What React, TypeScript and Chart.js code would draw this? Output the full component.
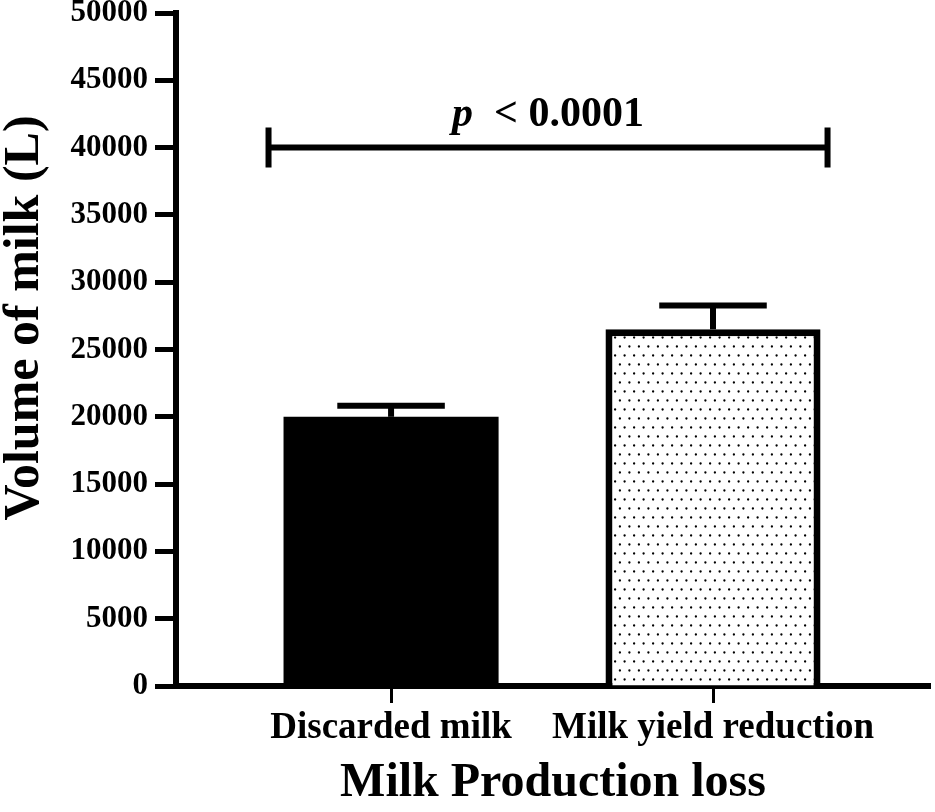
import React, { useEffect, useRef } from "react";
import { Chart, registerables } from "chart.js";

Chart.register(...registerables);

// data
const categories = ["Discarded milk", "Milk yield reduction"];
const meanVolume = [20000, 26500];
const sdVolume = [830, 1760];
const yMax = 50000;
const yStep = 5000;
const pValueLabel = "p < 0.0001";
const bracketValue = 40000;

const FONT = "'Liberation Serif', 'Times New Roman', serif";

function makeDotPattern(ctx: CanvasRenderingContext2D) {
	const tile = document.createElement("canvas");
	tile.width = 19;
	tile.height = 18;
	const t = tile.getContext("2d")!;
	t.fillStyle = "#fff";
	t.fillRect(0, 0, 19, 18);
	t.fillStyle = "#000";
	const dots = [
		[2.4, 4.5],
		[11.9, 4.5],
		[7.1, 13.5],
		[16.6, 13.5],
	];
	dots.forEach(([x, y]) => {
		t.beginPath();
		t.arc(x, y, 1.15, 0, Math.PI * 2);
		t.fill();
	});
	return ctx.createPattern(tile, "repeat")!;
}

const errorBarPlugin = {
	id: "errorBars",
	afterDatasetsDraw(chart: any) {
		const { ctx } = chart;
		const yScale = chart.scales.y;
		const meta = chart.getDatasetMeta(0);
		ctx.save();
		ctx.strokeStyle = "#000";
		ctx.lineWidth = 6;
		meta.data.forEach((bar: any, i: number) => {
			const top = yScale.getPixelForValue(meanVolume[i] + sdVolume[i]);
			const half = bar.width / 4;
			ctx.beginPath();
			ctx.moveTo(bar.x, bar.y);
			ctx.lineTo(bar.x, top);
			ctx.stroke();
			ctx.beginPath();
			ctx.moveTo(bar.x - half, top);
			ctx.lineTo(bar.x + half, top);
			ctx.stroke();
		});

		// significance bracket
		const first = meta.data[0];
		const last = meta.data[meta.data.length - 1];
		const x1 = first.x - first.width / 2 - 15;
		const x2 = last.x + last.width / 2 + 7;
		const yb = yScale.getPixelForValue(bracketValue);
		ctx.beginPath();
		ctx.moveTo(x1, yb);
		ctx.lineTo(x2, yb);
		ctx.moveTo(x1, yb - 20);
		ctx.lineTo(x1, yb + 20);
		ctx.moveTo(x2, yb - 20);
		ctx.lineTo(x2, yb + 20);
		ctx.stroke();

		// p value text, italic p
		const [pPart, op, num] = pValueLabel.split(" ");
		const restText = "  " + op + " " + num;
		ctx.fillStyle = "#000";
		ctx.textBaseline = "alphabetic";
		ctx.font = `italic bold 42px ${FONT}`;
		const wP = ctx.measureText(pPart).width;
		ctx.font = `bold 42px ${FONT}`;
		const wR = ctx.measureText(restText).width;
		const startX = (x1 + x2) / 2 - (wP + wR) / 2;
		ctx.textAlign = "left";
		ctx.font = `italic bold 42px ${FONT}`;
		ctx.fillText(pPart, startX, yb - 22);
		ctx.font = `bold 42px ${FONT}`;
		ctx.fillText(restText, startX + wP, yb - 22);

		// y axis title
		ctx.save();
		ctx.translate(25, 318);
		ctx.rotate(-Math.PI / 2);
		ctx.textAlign = "center";
		ctx.textBaseline = "middle";
		ctx.font = `bold 50px ${FONT}`;
		ctx.fillText("Volume of milk (L)", 0, 0);
		ctx.restore();
		ctx.restore();
	},
};

export default function App() {
	const canvasRef = useRef<HTMLCanvasElement>(null);
	const chartRef = useRef<Chart | null>(null);

	useEffect(() => {
		document.body.style.margin = "0";
		const canvas = canvasRef.current;
		if (!canvas) return;
		const ctx = canvas.getContext("2d");
		if (!ctx) return;
		const dots = makeDotPattern(ctx);

		chartRef.current = new Chart(ctx, {
			type: "bar",
			data: {
				datasets: [
					{
						data: categories.map((c, i) => ({ x: i + 1, y: meanVolume[i] })),
						backgroundColor: ["#000", dots],
						borderColor: "#000",
						borderWidth: [0, 7],
						barPercentage: 0.668,
						categoryPercentage: 1,
					},
				],
			},
			options: {
				animation: false,
				responsive: false,
				devicePixelRatio: 1,
				layout: { padding: { top: 13, right: 5, left: 0, bottom: 0 } },
				plugins: { legend: { display: false }, tooltip: { enabled: false } },
				scales: {
					x: {
						type: "linear",
						min: 0.332,
						max: 2.674,
						offset: false,
						z: 1,
						afterFit: (s: any) => {
							s.height = 126;
							s.paddingLeft = 0;
							s.paddingRight = 0;
						},
						afterBuildTicks: (s: any) => {
							s.ticks = categories.map((c, i) => ({ value: i + 1 }));
						},
						grid: {
							offset: false,
							drawOnChartArea: false,
							tickLength: 17,
							tickWidth: 3,
							tickColor: "#000",
						},
						border: { display: true, color: "#000", width: 6 },
						ticks: {
							color: "#000",
							padding: 3,
							autoSkip: false,
							maxRotation: 0,
							font: { family: FONT, size: 37, weight: "bold" },
							callback: (v: any) => categories[Math.round(v) - 1] ?? "",
						},
						title: {
							display: true,
							text: "Milk Production loss",
							color: "#000",
							font: { family: FONT, size: 48, weight: "bold" },
							padding: { top: 0, bottom: 0 },
						},
					},
					y: {
						min: 0,
						max: yMax,
						z: 1,
						afterFit: (s: any) => {
							s.width = 176;
							s.paddingTop = 0;
							s.paddingBottom = 0;
						},
						grid: {
							drawOnChartArea: false,
							tickLength: 21,
							tickWidth: 5,
							tickColor: "#000",
						},
						border: { display: true, color: "#000", width: 6 },
						ticks: {
							stepSize: yStep,
							color: "#000",
							padding: 7,
							font: { family: FONT, size: 31, weight: "bold" },
							callback: (v: any) => String(v),
						},
					},
				},
			},
			plugins: [errorBarPlugin],
		});

		return () => {
			chartRef.current?.destroy();
			chartRef.current = null;
		};
	}, []);

	return (
		<div style={{ width: 935, height: 812, background: "#fff" }}>
			<canvas ref={canvasRef} width={935} height={812} />
		</div>
	);
}
